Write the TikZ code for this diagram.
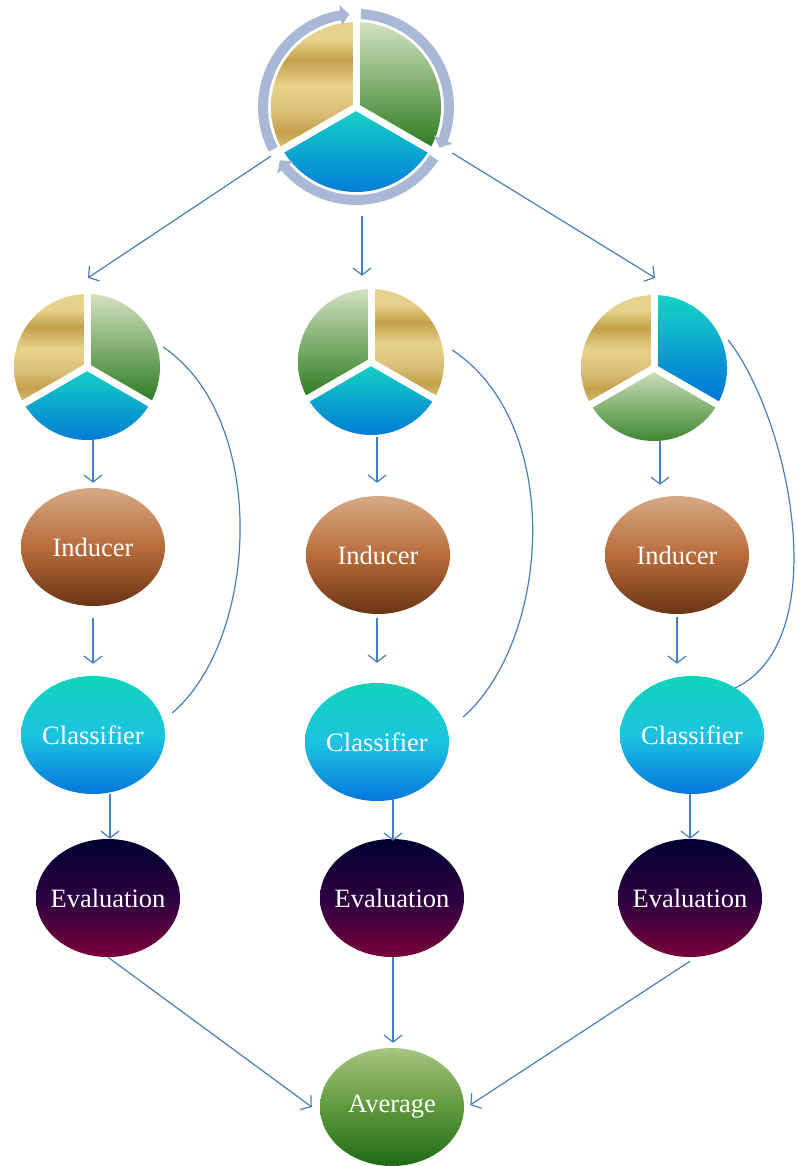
\documentclass[tikz,border=0pt]{standalone}
\usepackage{fontspec}
\setmainfont{Liberation Serif}
\usetikzlibrary{shapes.geometric,arrows.meta,bending}
\definecolor{gA}{HTML}{E6D28C}
\definecolor{gB}{HTML}{C4A04A}
\definecolor{gC}{HTML}{D9C07A}
\definecolor{grA}{HTML}{D3E1C0}
\definecolor{grB}{HTML}{2A7A1E}
\definecolor{blA}{HTML}{14D4C4}
\definecolor{blB}{HTML}{0070D8}
\definecolor{lnk}{HTML}{4A7EBB}
\definecolor{ringc}{HTML}{A8B8D5}
\definecolor{inA}{HTML}{D6AA86}
\definecolor{inM}{HTML}{B86C3A}
\definecolor{inB}{HTML}{6A3414}
\definecolor{clA}{HTML}{10D4BA}
\definecolor{clM}{HTML}{1CC4E0}
\definecolor{clB}{HTML}{0576DC}
\definecolor{evA}{HTML}{000030}
\definecolor{evM}{HTML}{2C0040}
\definecolor{evB}{HTML}{78003A}
\definecolor{avA}{HTML}{A8C47F}
\definecolor{avM}{HTML}{5E9A3C}
\definecolor{avB}{HTML}{1F6B16}
\pgfdeclareverticalshading{goldband}{100bp}{color(0bp)=(gC); color(25bp)=(gC); color(32bp)=(gB); color(40bp)=(gC); color(50bp)=(gA); color(60bp)=(gB); color(68bp)=(gA); color(75bp)=(gA); color(100bp)=(gA)}
\newcommand\pieseg[5]{\shade[#5] (#1) -- ++(#3:#2) arc[start angle=#3, end angle=#4, radius=#2] -- cycle;}
\newcommand\piegaps[2]{\foreach \a in {90,210,330} \draw[white, line width=7pt] (#1) -- ++(\a:#2);\fill[white] (#1) circle[radius=4pt];}
\newcommand\blbl[1]{\makebox[0pt][c]{#1}}
\tikzset{
  arr/.style={draw=lnk, line width=1.2pt, -{Straight Barb[length=7pt,width=18pt]}},
  crv/.style={draw=lnk, line width=1.2pt},
  blob/.style={ellipse, minimum width=144pt, minimum height=118pt, inner sep=0pt, text=white, font=\fontsize{26.5}{30}\selectfont},
  indc/.style={blob, top color=inA, bottom color=inB, middle color=inM},
  clsf/.style={blob, top color=clA, bottom color=clB, middle color=clM},
  eval/.style={blob, top color=evA, bottom color=evB, middle color=evM},
  avrg/.style={blob, top color=avA, bottom color=avB, middle color=avM},
  ring/.style={draw=ringc, line width=10pt, -{Triangle[length=9pt,width=20pt]}},
  gold/.style={shading=goldband},
  grn/.style={top color=grA, bottom color=grB},
  blu/.style={top color=blA, bottom color=blB},
  piehold/.style={circle, minimum size=146pt, inner sep=0pt},
}
\begin{document}
\begin{tikzpicture}[x=1pt,y=1pt]
\useasboundingbox (0,0) rectangle (796,-1166);
% top circle
\node[circle, minimum size=196pt, inner sep=0pt] (top) at (356,-107) {};
\pieseg{top.center}{85pt}{90}{210}{gold}
\pieseg{top.center}{85pt}{-30}{90}{grn}
\pieseg{top.center}{85pt}{210}{330}{blu}
\piegaps{top.center}{88pt}
\draw[ring] ([shift={(207:93pt)}]top.center) arc[start angle=207, end angle=94, radius=93pt];
\draw[ring] ([shift={(87:93pt)}]top.center) arc[start angle=87, end angle=-26, radius=93pt];
\draw[ring] ([shift={(-33:93pt)}]top.center) arc[start angle=-33, end angle=-145, radius=93pt];
% small pies
\node[piehold] (pieL) at (87,-367) {};
\node[piehold] (pieM) at (371,-362) {};
\node[piehold] (pieR) at (654,-368) {};
\pieseg{pieL.center}{73pt}{90}{210}{gold}
\pieseg{pieL.center}{73pt}{-30}{90}{grn}
\pieseg{pieL.center}{73pt}{210}{330}{blu}
\piegaps{pieL.center}{76pt}
\pieseg{pieM.center}{73pt}{90}{210}{grn}
\pieseg{pieM.center}{73pt}{-30}{90}{gold}
\pieseg{pieM.center}{73pt}{210}{330}{blu}
\piegaps{pieM.center}{76pt}
\pieseg{pieR.center}{73pt}{90}{210}{gold}
\pieseg{pieR.center}{73pt}{-30}{90}{blu}
\pieseg{pieR.center}{73pt}{210}{330}{grn}
\piegaps{pieR.center}{76pt}
% ellipses
\node[indc] (indL) at (93,-547) {\blbl{Inducer}};
\node[indc] (indM) at (378,-555) {\blbl{Inducer}};
\node[indc] (indR) at (677,-555) {\blbl{Inducer}};
\node[clsf] (clL) at (93,-735) {\blbl{Classifier}};
\node[clsf] (clM) at (377,-742) {\blbl{Classifier}};
\node[clsf] (clR) at (692,-735) {\blbl{Classifier}};
\node[eval] (evL) at (108,-898) {\blbl{Evaluation}};
\node[eval] (evM) at (392,-898) {\blbl{Evaluation}};
\node[eval] (evR) at (690,-898) {\blbl{Evaluation}};
\node[avrg] (avg) at (392,-1107) {\blbl{Average}};
% arrows
\draw[arr] (top.210) -- ([xshift=1pt,yshift=16pt]pieL.north);
\draw[arr] ([xshift=6pt,yshift=-11pt]top.south) -- ([xshift=-9pt,yshift=13pt]pieM.north);
\draw[arr] ([xshift=-2pt,yshift=-46pt]top.east) -- ([xshift=1pt,yshift=17pt]pieR.north);
\draw[arr] ([xshift=6pt]pieL.south) -- ([yshift=5pt]indL.north);
\draw[arr] ([xshift=6pt,yshift=-2pt]pieM.south) -- ([xshift=-1pt,yshift=13pt]indM.north);
\draw[arr] ([xshift=6pt]pieR.south) -- ([xshift=-17pt,yshift=11pt]indR.north);
\draw[arr] ([yshift=-12pt]indL.south) -- ([yshift=12pt]clL.north);
\draw[arr] ([xshift=-1pt,yshift=-4pt]indM.south) -- ([yshift=20pt]clM.north);
\draw[arr] ([yshift=-3pt]indR.south) -- ([xshift=-15pt,yshift=12pt]clR.north);
\draw[arr] ([xshift=17pt]clL.south) -- ([xshift=2pt]evL.north);
\draw[arr] ([xshift=16pt,yshift=2pt]clM.south) -- ([xshift=1pt,yshift=-2pt]evM.north);
\draw[arr] ([xshift=-2pt]clR.south) -- (evR.north);
\draw[arr] (evL.south) -- ([xshift=-8pt]avg.west);
\draw[arr] ([xshift=1pt]evM.south) -- ([xshift=1pt,yshift=5pt]avg.north);
\draw[arr] ([yshift=-4pt]evR.south) -- ([xshift=6pt,yshift=2pt]avg.east);
% curves
\draw[crv] ([xshift=3pt,yshift=20pt]pieL.east) .. controls +(107,-73) and +(86,73) .. ([xshift=7pt,yshift=22pt]clL.east);
\draw[crv] ([xshift=8pt,yshift=12pt]pieM.east) .. controls +(113,-75) and +(87,77) .. ([xshift=14pt,yshift=25pt]clM.east);
\draw[crv] ([xshift=1pt,yshift=28pt]pieR.east) .. controls +(62,-80) and +(100,48) .. ([xshift=-29pt,yshift=47pt]clR.east);
\end{tikzpicture}
\end{document}
